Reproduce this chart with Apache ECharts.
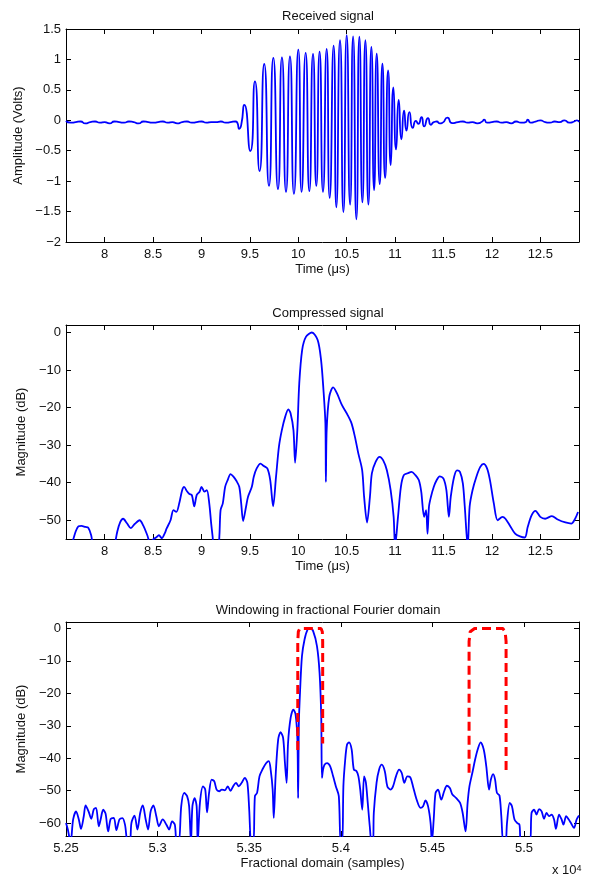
<!DOCTYPE html>
<html>
<head>
<meta charset="utf-8">
<script src="https://cdn.jsdelivr.net/npm/echarts@6/dist/echarts.min.js"></script>
<style>
  html, body { margin: 0; padding: 0; background: #fff; }
  #chart { width: 590px; height: 880px; }
</style>
</head>
<body>
<div id="chart"></div>
<script>
// received signal (time in us, amplitude in volts)
const rxTime = [
  7.60, 7.65, 7.70, 7.75, 7.80, 7.85, 7.90, 7.95, 8.00, 8.05,
  8.10, 8.15, 8.20, 8.25, 8.30, 8.35, 8.40, 8.45, 8.50, 8.55,
  8.60, 8.65, 8.70, 8.75, 8.80, 8.85, 8.90, 8.95, 9.00, 9.05,
  9.10, 9.15, 9.20, 9.25, 9.30, 9.35, 9.37, 9.39, 9.41, 9.442,
  9.504, 9.552, 9.600, 9.648, 9.697, 9.742, 9.790, 9.831, 9.873, 9.914,
  9.955, 10.000, 10.034, 10.076, 10.114, 10.152, 10.186, 10.220, 10.255, 10.293,
  10.324, 10.365, 10.393, 10.431, 10.466, 10.500, 10.535, 10.566, 10.600, 10.631,
  10.662, 10.693, 10.724, 10.755, 10.783, 10.810, 10.841, 10.869, 10.897, 10.928,
  10.955, 10.982, 11.010, 11.037, 11.065, 11.093, 11.117, 11.148, 11.182, 11.215,
  11.24, 11.273, 11.30, 11.34, 11.37, 11.40, 11.43, 11.46, 11.49, 11.54,
  11.59, 11.65, 11.70, 11.75, 11.80, 11.85, 11.90, 11.92, 11.95, 12.00,
  12.05, 12.10, 12.15, 12.20, 12.25, 12.30, 12.35, 12.37, 12.40, 12.45,
  12.50, 12.55, 12.60, 12.65, 12.70, 12.75, 12.80, 12.85, 12.88, 12.90
];
const rxAmp = [
  -0.01, -0.04, -0.03, -0.02, -0.05, -0.03, -0.02, -0.04, -0.03, -0.05,
  -0.02, -0.03, -0.04, -0.02, -0.03, -0.05, -0.02, -0.03, -0.04, -0.03,
  -0.02, -0.04, -0.03, -0.05, -0.03, -0.02, -0.04, -0.03, -0.02, -0.04,
  -0.03, -0.03, -0.02, -0.04, -0.03, -0.02, -0.04, -0.14, -0.08, 0.254,
  -0.505, 0.64, -0.835, 0.925, -1.077, 1.024, -1.13, 1.035, -1.177, 1.05,
  -1.21, 1.16, -1.177, 1.107, -1.165, 1.09, -1.077, 1.128, -1.177, 1.173,
  -1.276, 1.228, -1.43, 1.315, -1.507, 1.397, -1.385, 1.38, -1.627, 1.376,
  -1.35, 1.315, -1.385, 1.207, -1.149, 1.096, -1.05, 0.93, -0.946, 0.82,
  -0.736, 0.54, -0.477, 0.337, -0.312, 0.16, -0.17, 0.133, -0.125, -0.01,
  -0.06, 0.05, -0.10, 0.034, -0.074, -0.03, -0.02, -0.05, -0.04, 0.045,
  -0.048, -0.03, -0.02, -0.04, -0.03, -0.05, -0.02, 0.01, -0.04, -0.03,
  -0.02, -0.04, -0.03, -0.05, -0.02, -0.04, -0.03, 0.01, -0.04, -0.02,
  0.00, -0.03, -0.04, -0.02, -0.03, 0.00, -0.04, -0.02, 0.00, -0.03
];

// compressed signal (time in us, magnitude in dB)
const cmpTime = [
  7.60, 7.67, 7.70, 7.73, 7.76, 7.80, 7.83, 7.86, 7.88, 7.95,
  8.05, 8.10, 8.13, 8.16, 8.19, 8.23, 8.27, 8.31, 8.36, 8.40,
  8.44, 8.47, 8.505, 8.53, 8.56, 8.59, 8.62, 8.64, 8.68, 8.71,
  8.74, 8.77, 8.80, 8.82, 8.85, 8.875, 8.90, 8.925, 8.95, 8.98,
  9.00, 9.03, 9.055, 9.08, 9.10, 9.115, 9.13, 9.17, 9.185, 9.197,
  9.22, 9.244, 9.27, 9.30, 9.33, 9.36, 9.39, 9.41, 9.43, 9.46,
  9.48, 9.52, 9.54, 9.57, 9.61, 9.64, 9.68, 9.71, 9.74, 9.77,
  9.80, 9.83, 9.865, 9.897, 9.92, 9.95, 9.967, 9.99, 10.01, 10.04,
  10.08, 10.14, 10.20, 10.235, 10.26, 10.28, 10.285, 10.293, 10.32, 10.36,
  10.40, 10.45, 10.51, 10.55, 10.585, 10.62, 10.66, 10.68, 10.71, 10.74,
  10.76, 10.80, 10.84, 10.876, 10.915, 10.954, 10.985, 11.00, 11.03, 11.06,
  11.09, 11.13, 11.17, 11.21, 11.245, 11.27, 11.30, 11.32, 11.335, 11.35,
  11.37, 11.40, 11.43, 11.46, 11.50, 11.53, 11.556, 11.575, 11.61, 11.64,
  11.67, 11.70, 11.72, 11.75, 11.77, 11.80, 11.84, 11.88, 11.914, 11.95,
  11.98, 12.02, 12.06, 12.11, 12.14, 12.19, 12.24, 12.29, 12.34, 12.37,
  12.41, 12.45, 12.50, 12.55, 12.62, 12.68, 12.76, 12.82, 12.86, 12.89
];
const cmpDb = [
  -60, -55.5, -53, -51.6, -51.5, -51.8, -52, -54, -57, -62,
  -62, -57, -53, -50.5, -49.6, -50.8, -52.1, -51, -50, -51.5,
  -54, -56, -55, -54.6, -54, -54.8, -53.5, -52.2, -50, -47.3,
  -47.8, -45.5, -42, -41.1, -42.3, -43, -43.3, -46.3, -43.3, -42.4,
  -41.1, -42.4, -42, -45.5, -50.9, -54.4, -58, -58, -54, -47.3,
  -45.5, -41.1, -39.3, -37.7, -38.4, -39.5, -41.1, -45.5, -50.2, -46.4,
  -43.8, -41.1, -38.4, -36.2, -34.9, -35.5, -36.2, -39.3, -46.3, -38.4,
  -30.4, -26, -22.4, -20.5, -21.5, -26, -34.7, -26, -13.5, -4.6,
  -1.1, 0, -2, -7.3, -15.3, -24.2, -39.8, -26, -17.1, -14.6,
  -16.2, -19.3, -22, -24.2, -27.8, -32.2, -36.7, -43.8, -50.6, -43.8,
  -37.5, -34.4, -33.1, -34, -36.7, -42, -49.1, -57, -49.1, -41.1,
  -38, -37.5, -37.1, -38, -39.3, -42.4, -49.1, -47.3, -53.6, -46.4,
  -43.8, -41.1, -39.3, -38.3, -38.9, -42, -49.1, -43.8, -38.4, -36.7,
  -37.1, -40.2, -46.4, -57, -46.4, -42, -38.4, -35.8, -35, -36.2,
  -39.3, -45.5, -50, -49.1, -49.6, -51.6, -53.6, -54.3, -54.6, -51.8,
  -48.7, -47.5, -49.1, -49.6, -48.9, -49.8, -50.6, -50.9, -49.6, -47.8
];

// fractional Fourier domain (sample index, magnitude in dB)
const fracSample = [
  52500, 52510, 52525, 52539, 52555, 52570, 52582, 52597, 52607, 52623,
  52638, 52652, 52664, 52679, 52689, 52703, 52716, 52730, 52744, 52761,
  52775, 52792, 52808, 52822, 52837, 52849, 52857, 52874, 52890, 52905,
  52919, 52935, 52948, 52962, 52977, 52993, 53007, 53028, 53048, 53063,
  53079, 53094, 53104, 53116, 53129, 53145, 53161, 53172, 53182, 53190,
  53202, 53213, 53219, 53231, 53248, 53260, 53270, 53281, 53295, 53309,
  53322, 53336, 53350, 53367, 53383, 53398, 53412, 53428, 53443, 53459,
  53476, 53490, 53500, 53511, 53523, 53531, 53543, 53556, 53572, 53593,
  53607, 53617, 53628, 53634, 53644, 53658, 53671, 53685, 53695, 53704,
  53712, 53726, 53741, 53753, 53763, 53767, 53771, 53778, 53788, 53802,
  53819, 53833, 53849, 53870, 53884, 53893, 53897, 53903, 53911, 53925,
  53942, 53958, 53973, 53989, 53999, 54008, 54014, 54024, 54034, 54045,
  54059, 54071, 54086, 54096, 54106, 54117, 54127, 54137, 54147, 54158,
  54168, 54176, 54180, 54195, 54209, 54223, 54240, 54254, 54271, 54285,
  54301, 54318, 54332, 54347, 54363, 54379, 54394, 54414, 54435, 54449,
  54462, 54476, 54490, 54497, 54507, 54517, 54531, 54548, 54564, 54579,
  54595, 54609, 54630, 54651, 54665, 54681, 54692, 54702, 54718, 54733,
  54747, 54763, 54780, 54794, 54809, 54819, 54831, 54842, 54852, 54866,
  54876, 54887, 54899, 54907, 54922, 54934, 54948, 54963, 54975, 54985,
  55031, 55041, 55055, 55068, 55082, 55096, 55109, 55123, 55137, 55150,
  55164, 55174, 55191, 55205, 55215, 55230, 55244, 55256, 55273, 55287,
  55300
];
const fracDb = [
  -60, -62, -66, -58.9, -56.4, -58.9, -61.8, -57.9, -54.6, -56.4,
  -58.7, -55.7, -55.3, -61, -58.9, -55.9, -57.1, -62.6, -58.7, -58.4,
  -62.2, -58.9, -58.5, -60.5, -66, -66, -60, -57.7, -62, -56.9,
  -54.6, -58.9, -62, -56.4, -54.6, -57.9, -61, -58.9, -60.5, -62,
  -59.5, -60.5, -66, -66, -54.8, -50.7, -51.7, -54.8, -66, -54.8,
  -52.3, -54.8, -66, -53.8, -48.7, -49.7, -56.7, -50.7, -46.6, -47.1,
  -49.7, -50.2, -49.7, -49.9, -48.7, -50.1, -48.7, -47.6, -48.7, -47.6,
  -46.1, -47.6, -55.9, -66, -66, -51.7, -50.7, -45.6, -43.5, -41.5,
  -40.9, -43.5, -49.7, -58.4, -45.6, -34.3, -32, -33.7, -41.5, -47.6,
  -35.3, -27.6, -25, -26.5, -34.3, -52.3, -29.1, -18.8, -8.5, -3.4,
  -0.3, 0, -0.8, -5.5, -13.7, -27, -46.1, -43.5, -42, -41.5,
  -42.5, -45.6, -48.7, -51.7, -66, -66, -48.7, -40.4, -35.8, -35.1,
  -37.3, -43.5, -44, -45.6, -49.7, -55.9, -45.6, -47.6, -53.8, -61,
  -66, -66, -56.9, -47.6, -43.5, -42, -44, -48.7, -49.7, -48.7,
  -45.6, -43.5, -44.5, -47.6, -45.6, -45.9, -48.7, -52.8, -55.3, -54.8,
  -53, -54.8, -60, -66, -58.9, -50.7, -49.7, -52.8, -50.2, -48.5,
  -49.2, -51.2, -52.3, -53.8, -56.9, -62.6, -53.8, -48.7, -44.5, -40.4,
  -37.3, -35.1, -37.3, -42.5, -49.7, -46.6, -44.9, -46.6, -50.7, -51.5,
  -57.9, -66, -66, -60, -53.8, -54.8, -58.9, -60, -60.5, -66,
  -66, -56.9, -55.9, -57.4, -55.7, -56.4, -58.7, -56.9, -57.9, -57.4,
  -58.9, -61.8, -57.4, -58.9, -60.5, -57.9, -58.9, -60, -61.5, -58.9,
  -57.7
];

// the two windows (red dashed)
const win1Sample = [53765, 53765, 53768, 53776, 53892, 53899, 53901, 53901];
const win1Db = [-37.5, -4, -1, 0, 0, -1, -4, -35.5];
const win2Sample = [54700, 54700, 54706, 54730, 54884, 54897, 54902, 54902];
const win2Db = [-44.5, -4, -1, 0, 0, -1, -4, -44.5];

// tick values
const timeTicks = [8, 8.5, 9, 9.5, 10, 10.5, 11, 11.5, 12, 12.5];
const ampTicks = [-2, -1.5, -1, -0.5, 0, 0.5, 1, 1.5];
const cmpTicks = [-50, -40, -30, -20, -10, 0];
const fracTicks = [52500, 53000, 53500, 54000, 54500, 55000];
const fracDbTicks = [-60, -50, -40, -30, -20, -10, 0];

const FONT = '"Liberation Sans", Arial, Helvetica, sans-serif';
const TEXT = '#111';
const zip = (xs, ys) => xs.map((x, i) => [x, ys[i]]);
const minus = (v) => String(v).replace('-', '\u2212');

const chart = echarts.init(document.getElementById('chart'), null, { renderer: 'canvas' });

// one pair of axes (labelled + mirrored box side)
function axisPair(kind, grid, min, max, ticks, fmt, name, nameGap) {
  const base = {
    type: 'value',
    gridIndex: grid,
    min: min,
    max: max,
    splitLine: { show: false },
    axisLine: { show: true, onZero: false, lineStyle: { color: '#000', width: 1 } },
    axisTick: { show: true, inside: true, length: 5, customValues: ticks, lineStyle: { color: '#000', width: 1 } },
  };
  const main = Object.assign({}, base, {
    position: kind === 'x' ? 'bottom' : 'left',
    axisLabel: {
      show: true,
      customValues: ticks,
      formatter: fmt,
      color: TEXT,
      fontSize: 13,
      fontFamily: FONT,
      margin: kind === 'x' ? 6 : 5,
    },
    name: name,
    nameLocation: 'middle',
    nameGap: nameGap,
    nameTextStyle: { color: TEXT, fontSize: 13, fontFamily: FONT },
  });
  const mirror = Object.assign({}, base, {
    position: kind === 'x' ? 'top' : 'right',
    axisLabel: { show: false },
  });
  return [main, mirror];
}

const fracFmt = (v) => String(+(v / 10000).toFixed(2));
const titleStyle = { fontSize: 13, fontWeight: 'normal', fontFamily: FONT, color: TEXT };

// blue signal line
function signal(axis, xs, ys, smooth) {
  return {
    type: 'line',
    xAxisIndex: axis,
    yAxisIndex: axis,
    data: zip(xs, ys),
    showSymbol: false,
    symbol: 'none',
    smooth: smooth,
    lineStyle: { color: '#0000ff', width: 1.8 },
  };
}

// red dashed window
function windowLine(xs, ys) {
  return {
    type: 'line',
    xAxisIndex: 4,
    yAxisIndex: 4,
    data: zip(xs, ys),
    showSymbol: false,
    symbol: 'none',
    lineStyle: { color: '#ff0000', width: 3, type: [9, 5] },
  };
}

const options = {
  animation: false,
  backgroundColor: '#fff',
  title: [
    { text: 'Received signal', left: 323, top: 5, textAlign: 'center', textStyle: titleStyle },
    { text: 'Compressed signal', left: 323, top: 302, textAlign: 'center', textStyle: titleStyle },
    { text: 'Windowing in fractional Fourier domain', left: 323, top: 599, textAlign: 'center', textStyle: titleStyle },
  ],
  grid: [
    { left: 66, right: 11, top: 29, height: 213 },
    { left: 66, right: 11, top: 325, height: 214 },
    { left: 66, right: 11, top: 622, height: 214 },
  ],
  xAxis: [
    ...axisPair('x', 0, 7.6, 12.9, timeTicks, minus, 'Time (\u03bcs)', 21),
    ...axisPair('x', 1, 7.6, 12.9, timeTicks, minus, 'Time (\u03bcs)', 21),
    ...axisPair('x', 2, 52500, 55300, fracTicks, fracFmt, 'Fractional domain (samples)', 21),
  ],
  yAxis: [
    ...axisPair('y', 0, -2, 1.5, ampTicks, minus, 'Amplitude (Volts)', 36),
    ...axisPair('y', 1, -55, 2, cmpTicks, minus, 'Magnitude (dB)', 33),
    ...axisPair('y', 2, -64, 2, fracDbTicks, minus, 'Magnitude (dB)', 33),
  ],
  graphic: [
    {
      type: 'text',
      left: 552,
      top: 864,
      style: {
        text: 'x 10{sup|4}',
        fill: TEXT,
        font: '13px ' + FONT,
        rich: { sup: { fontSize: 9, fontFamily: FONT, verticalAlign: 'top', fill: TEXT } },
      },
    },
  ],
  series: [
    signal(0, rxTime, rxAmp, 0.7),
    signal(2, cmpTime, cmpDb, 0.3),
    signal(4, fracSample, fracDb, 0.3),
    windowLine(win1Sample, win1Db),
    windowLine(win2Sample, win2Db),
  ],
};

chart.setOption(options);
</script>
</body>
</html>
